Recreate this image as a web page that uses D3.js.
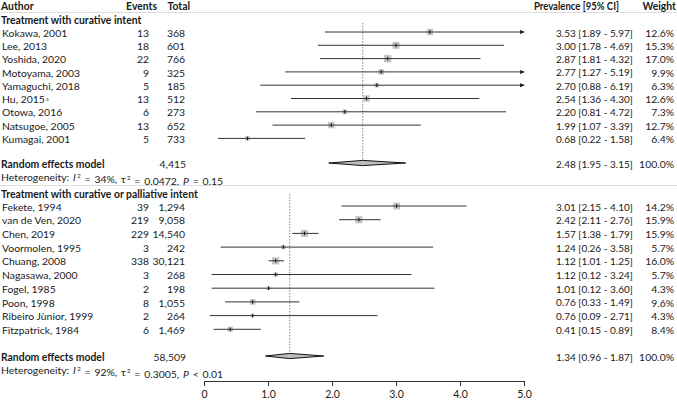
<!DOCTYPE html>
<html>
<head>
<meta charset="utf-8">
<script src="https://cdn.jsdelivr.net/npm/d3@7"></script>
<style>
  body { margin: 0; background: #fff; }
  svg text { font-family: Lato, "Open Sans", sans-serif; font-size: 10.4px; fill: #1a1a1a; }
  svg text.ci { font-size: 10px; }
</style>
</head>
<body>
<div id="chart"></div>
<script>
// group 1: treatment with curative intent
const authors1 = ["Kokawa, 2001", "Lee, 2013", "Yoshida, 2020", "Motoyama, 2003", "Yamaguchi, 2018", "Hu, 2015", "Otowa, 2016", "Natsugoe, 2005", "Kumagai, 2001"];
const events1 = [13, 18, 22, 9, 5, 13, 6, 13, 5];
const totals1 = [368, 601, 766, 325, 185, 512, 273, 652, 733];
const prev1 = [3.53, 3.00, 2.87, 2.77, 2.70, 2.54, 2.20, 1.99, 0.68];
const lower1 = [1.89, 1.78, 1.81, 1.27, 0.88, 1.36, 0.81, 1.07, 0.22];
const upper1 = [5.97, 4.69, 4.32, 5.19, 6.19, 4.30, 4.72, 3.39, 1.58];
const weight1 = [12.6, 15.3, 17.0, 9.9, 6.3, 12.6, 7.3, 12.7, 6.4];
const pooled1 = [2.48, 1.95, 3.15];
const sum1 = 4415;

// group 2: treatment with curative or palliative intent
const authors2 = ["Fekete, 1994", "van de Ven, 2020", "Chen, 2019", "Voormolen, 1995", "Chuang, 2008", "Nagasawa, 2000", "Fogel, 1985", "Poon, 1998", "Ribeiro Jùnior, 1999", "Fitzpatrick, 1984"];
const events2 = [39, 219, 229, 3, 338, 3, 2, 8, 2, 6];
const totals2 = [1294, 9058, 14540, 242, 30121, 268, 198, 1055, 264, 1469];
const prev2 = [3.01, 2.42, 1.57, 1.24, 1.12, 1.12, 1.01, 0.76, 0.76, 0.41];
const lower2 = [2.15, 2.11, 1.38, 0.26, 1.01, 0.12, 0.12, 0.33, 0.09, 0.15];
const upper2 = [4.10, 2.76, 1.79, 3.58, 1.25, 3.24, 3.60, 1.49, 2.71, 0.89];
const weight2 = [14.2, 15.9, 15.9, 5.7, 16.0, 5.7, 4.3, 9.6, 4.3, 8.4];
const pooled2 = [1.34, 0.96, 1.87];
const sum2 = 58509;

const ticks = [0, 1, 2, 3, 4, 5];

const W = 677, H = 400;
const svg = d3.select("#chart").append("svg").attr("width", W).attr("height", H);

svg.append("defs").append("marker")
  .attr("id", "arr").attr("viewBox", "0 0 6 6").attr("refX", 5).attr("refY", 3)
  .attr("markerWidth", 5).attr("markerHeight", 5).attr("orient", "auto")
  .append("path").attr("d", "M0,0.5L6,3L0,5.5Z").attr("fill", "#222");

const x = d3.scaleLinear().domain([0, 5]).range([204, 524]);
const fmt2 = d3.format(".2f");
const fmtN = d3.format(",");
const side = d3.scaleSqrt().domain([0, 17]).range([0, 7.4]);

// header
const head = svg.append("g").style("font-weight", "bold");
head.append("text").attr("x", 1).attr("y", 6).attr("dy", "0.35em").text("Author");
head.append("text").attr("x", 157).attr("y", 6).attr("dy", "0.35em").attr("text-anchor", "end").text("Events");
head.append("text").attr("x", 190).attr("y", 6).attr("dy", "0.35em").attr("text-anchor", "end").text("Total");
head.append("text").attr("x", 619).attr("y", 6).attr("dy", "0.35em").attr("text-anchor", "end")
  .attr("textLength", 85).attr("lengthAdjust", "spacingAndGlyphs").text("Prevalence [95% CI]");
head.append("text").attr("x", 676).attr("y", 6).attr("dy", "0.35em").attr("text-anchor", "end").text("Weight");

svg.append("line").attr("x1", 0).attr("x2", W).attr("y1", 12.5).attr("y2", 12.5).attr("stroke", "#ddd");

function drawGroup(opt) {
  const g = svg.append("g");
  const n = opt.authors.length;
  const y = i => opt.y0 + i * opt.step;

  g.append("text").attr("x", 1).attr("y", opt.titleY).attr("dy", "0.35em")
    .style("font-weight", "bold").text(opt.title);

  // reference line at pooled estimate
  g.append("line")
    .attr("x1", x(opt.pooled[0])).attr("x2", x(opt.pooled[0]))
    .attr("y1", opt.refTop).attr("y2", opt.poolY)
    .attr("stroke", "#666").attr("stroke-width", 0.8).attr("stroke-dasharray", "1.5,1.5");

  const rows = g.selectAll(".row").data(d3.range(n)).join("g").attr("class", "row");

  rows.append("text").attr("x", 2).attr("y", i => y(i) + 1).attr("dy", "0.35em")
    .text(i => opt.authors[i])
    .filter(i => opt.note && opt.note[i])
    .append("tspan").attr("dy", "-0.4em").attr("dx", 1).style("font-size", "6px").attr("fill", "#555").text(i => opt.note[i]);
  rows.append("text").attr("x", 149).attr("y", i => y(i) + 1).attr("dy", "0.35em")
    .attr("text-anchor", "end").text(i => opt.events[i]);
  rows.append("text").attr("x", 185).attr("y", i => y(i) + 1).attr("dy", "0.35em")
    .attr("text-anchor", "end").text(i => fmtN(opt.totals[i]));
  rows.append("text").attr("class", "ci").attr("x", 556).attr("y", i => y(i) + 1).attr("dy", "0.35em")
    .attr("fill", "#333")
    .text(i => `${fmt2(opt.prev[i])} [${fmt2(opt.lower[i])} - ${fmt2(opt.upper[i])}]`);
  rows.append("text").attr("x", 674).attr("y", i => y(i) + 1).attr("dy", "0.35em")
    .attr("text-anchor", "end").attr("fill", "#333").text(i => opt.weight[i].toFixed(1) + "%");

  // squares, CI lines, point ticks
  rows.append("rect")
    .attr("x", i => x(opt.prev[i]) - side(opt.weight[i]) / 2)
    .attr("y", i => y(i) - side(opt.weight[i]) / 2)
    .attr("width", i => side(opt.weight[i]))
    .attr("height", i => side(opt.weight[i]))
    .attr("fill", "#c4c4c4");
  rows.append("line")
    .attr("x1", i => x(opt.lower[i]))
    .attr("x2", i => x(Math.min(opt.upper[i], 5)))
    .attr("y1", y).attr("y2", y)
    .attr("stroke", "#333").attr("stroke-width", 1)
    .attr("marker-end", i => opt.upper[i] > 5 ? "url(#arr)" : null);
  rows.append("line")
    .attr("x1", i => x(opt.prev[i])).attr("x2", i => x(opt.prev[i]))
    .attr("y1", i => y(i) - 1.8).attr("y2", i => y(i) + 1.8)
    .attr("stroke", "#111").attr("stroke-width", 1);

  // pooled diamond
  const p = opt.pooled, py = opt.poolY;
  g.append("path")
    .attr("d", `M${x(p[1])},${py}L${x(p[0])},${py - 2.6}L${x(p[2])},${py}L${x(p[0])},${py + 2.6}Z`)
    .attr("fill", "#bdbdbd").attr("stroke", "#111").attr("stroke-width", 1);

  g.append("text").attr("x", 1).attr("y", py + 1).attr("dy", "0.35em")
    .style("font-weight", "bold").text("Random effects model");
  g.append("text").attr("x", 186).attr("y", py + 1).attr("dy", "0.35em")
    .attr("text-anchor", "end").text(fmtN(opt.sum));
  g.append("text").attr("class", "ci").attr("x", 556).attr("y", py + 1).attr("dy", "0.35em").attr("fill", "#333")
    .text(`${fmt2(p[0])} [${fmt2(p[1])} - ${fmt2(p[2])}]`);
  g.append("text").attr("x", 674).attr("y", py + 1).attr("dy", "0.35em")
    .attr("text-anchor", "end").attr("fill", "#333").text("100.0%");

  const het = g.append("text").attr("x", 1).attr("y", opt.hetY).attr("dy", "0.35em")
    .style("word-spacing", "1.2px");
  het.append("tspan").text("Heterogeneity: ");
  het.append("tspan").style("font-style", "italic").text("I");
  het.append("tspan").attr("dy", "-0.45em").attr("dx", 1.5).style("font-size", "6px").text("2");
  het.append("tspan").attr("dy", "0.45em").text(` = ${opt.i2}, τ`);
  het.append("tspan").attr("dy", "-0.45em").attr("dx", 1).style("font-size", "6px").text("2");
  het.append("tspan").attr("dy", "0.45em").text(` = ${opt.tau2}, `);
  het.append("tspan").style("font-style", "italic").text("P");
  het.append("tspan").text(` ${opt.pval}`);
}

drawGroup({
  title: "Treatment with curative intent", titleY: 20,
  authors: authors1, events: events1, totals: totals1, prev: prev1,
  lower: lower1, upper: upper1, weight: weight1, note: [null, null, null, null, null, "a"],
  pooled: pooled1, sum: sum1, y0: 32, step: 13.3, refTop: 23, poolY: 163, hetY: 177,
  i2: "34%", tau2: "0.0472", pval: "= 0.15"
});

drawGroup({
  title: "Treatment with curative or palliative intent", titleY: 194,
  authors: authors2, events: events2, totals: totals2, prev: prev2,
  lower: lower2, upper: upper2, weight: weight2,
  pooled: pooled2, sum: sum2, y0: 206, step: 13.7, refTop: 194, poolY: 356, hetY: 370,
  i2: "92%", tau2: "0.3005", pval: "< 0.01"
});

svg.append("line").attr("x1", 0).attr("x2", W).attr("y1", 185.5).attr("y2", 185.5).attr("stroke", "#ddd");

// x axis
const axis = svg.append("g").attr("transform", "translate(0,381)")
  .call(d3.axisBottom(x).tickValues(ticks).tickFormat(d => d === 0 ? "0" : d3.format(".1f")(d)).tickSize(5).tickSizeOuter(0));
axis.select(".domain").attr("stroke", "#333");
axis.selectAll(".tick line").attr("stroke", "#333");
axis.selectAll(".tick text").style("font-family", "Lato, sans-serif").style("font-size", "10.5px").attr("fill", "#222").attr("dy", "0.85em");
</script>
</body>
</html>
